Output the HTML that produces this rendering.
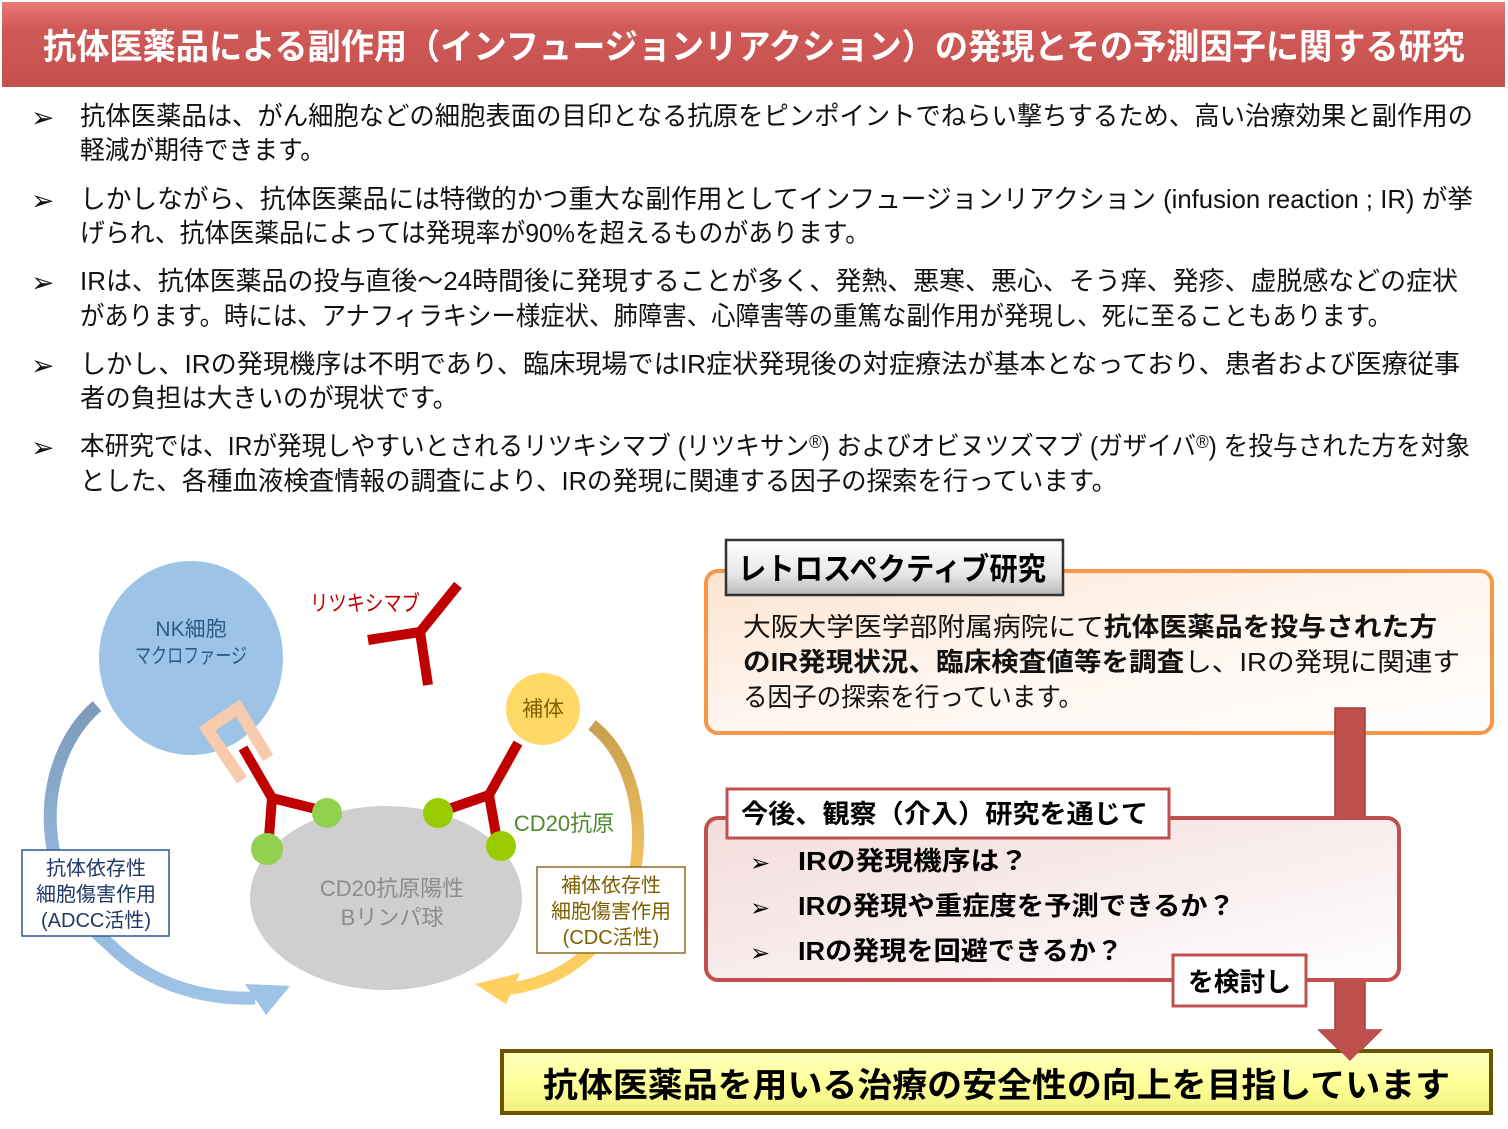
<!DOCTYPE html>
<html><head><meta charset="utf-8"><style>
html,body{margin:0;padding:0;background:#fff;}
svg{display:block;}
text{font-family:"Liberation Sans","Noto Sans CJK JP",sans-serif;}
</style></head><body>
<svg width="1508" height="1129" viewBox="0 0 1508 1129" xmlns="http://www.w3.org/2000/svg">
<defs>
<linearGradient id="tg" x1="0" y1="0" x2="0" y2="1">
<stop offset="0" stop-color="#ec7a78"/><stop offset="0.3" stop-color="#d05a58"/><stop offset="1" stop-color="#c4504e"/></linearGradient>
<linearGradient id="og" x1="0" y1="0" x2="1" y2="1">
<stop offset="0" stop-color="#fce4d0"/><stop offset="0.5" stop-color="#fff6ef"/><stop offset="1" stop-color="#ffffff"/></linearGradient>
<linearGradient id="rg" x1="0" y1="0" x2="1" y2="1">
<stop offset="0" stop-color="#f4dcdc"/><stop offset="0.5" stop-color="#f8ecec"/><stop offset="1" stop-color="#ffffff"/></linearGradient>
<linearGradient id="gg" x1="0" y1="0" x2="0" y2="1">
<stop offset="0" stop-color="#ffffff"/><stop offset="0.6" stop-color="#e8e8e8"/><stop offset="1" stop-color="#b8b8b8"/></linearGradient>
<linearGradient id="yg" x1="0" y1="0" x2="0" y2="1">
<stop offset="0" stop-color="#ffffc0"/><stop offset="0.5" stop-color="#ffff99"/><stop offset="1" stop-color="#f0f080"/></linearGradient>
<linearGradient id="lb" x1="0" y1="0" x2="0" y2="1">
<stop offset="0" stop-color="#7c9bb8"/><stop offset="0.45" stop-color="#8fb2d6"/><stop offset="1" stop-color="#9dc3e6"/></linearGradient>
<linearGradient id="ry" x1="0" y1="0" x2="0" y2="1">
<stop offset="0" stop-color="#c9a04e"/><stop offset="0.5" stop-color="#f0c060"/><stop offset="1" stop-color="#ffd060"/></linearGradient>
</defs>

<rect x="2" y="2" width="1503" height="85" fill="url(#tg)"/>
<text x="43" y="59" font-size="35" font-weight="bold" fill="#fff" textLength="1422" lengthAdjust="spacingAndGlyphs">抗体医薬品による副作用（インフュージョンリアクション）の発現とその予測因子に関する研究</text>

<g font-size="26" fill="#111">
<g fill="#111" font-size="28">
<text x="31" y="127">➢</text>
<text x="31" y="210">➢</text>
<text x="31" y="292">➢</text>
<text x="31" y="375">➢</text>
<text x="31" y="457">➢</text>
</g>
<text x="80" y="125" textLength="1393" lengthAdjust="spacingAndGlyphs">抗体医薬品は、がん細胞などの細胞表面の目印となる抗原をピンポイントでねらい撃ちするため、高い治療効果と副作用の</text>
<text x="80" y="159" textLength="245" lengthAdjust="spacingAndGlyphs">軽減が期待できます。</text>
<text x="80" y="208" textLength="1393" lengthAdjust="spacingAndGlyphs">しかしながら、抗体医薬品には特徴的かつ重大な副作用としてインフュージョンリアクション (infusion reaction ; IR) が挙</text>
<text x="80" y="242" textLength="790" lengthAdjust="spacingAndGlyphs">げられ、抗体医薬品によっては発現率が90%を超えるものがあります。</text>
<text x="80" y="290" textLength="1378" lengthAdjust="spacingAndGlyphs">IRは、抗体医薬品の投与直後～24時間後に発現することが多く、発熱、悪寒、悪心、そう痒、発疹、虚脱感などの症状</text>
<text x="80" y="325" textLength="1312" lengthAdjust="spacingAndGlyphs">があります。時には、アナフィラキシー様症状、肺障害、心障害等の重篤な副作用が発現し、死に至ることもあります。</text>
<text x="80" y="373" textLength="1380" lengthAdjust="spacingAndGlyphs">しかし、IRの発現機序は不明であり、臨床現場ではIR症状発現後の対症療法が基本となっており、患者および医療従事</text>
<text x="80" y="407" textLength="378" lengthAdjust="spacingAndGlyphs">者の負担は大きいのが現状です。</text>
<text x="80" y="455" textLength="1390" lengthAdjust="spacingAndGlyphs">本研究では、IRが発現しやすいとされるリツキシマブ (リツキサン<tspan font-size="18" dy="-7">®</tspan><tspan dy="7">) およびオビヌツズマブ (ガザイバ</tspan><tspan font-size="18" dy="-7">®</tspan><tspan dy="7">) を投与された方を対象</tspan></text>
<text x="80" y="490" textLength="1037" lengthAdjust="spacingAndGlyphs">とした、各種血液検査情報の調査により、IRの発現に関連する因子の探索を行っています。</text>
</g>

<path d="M97,706 C35,760 30,880 110,945 C150,985 205,1000 255,998" fill="none" stroke="url(#lb)" stroke-width="13"/>
<polygon points="245,984 290,986 266,1015" fill="#9dc3e6"/>
<path d="M592,725 C650,770 650,880 610,930 C580,965 550,985 500,990" fill="none" stroke="url(#ry)" stroke-width="12"/>
<polygon points="475,984 520,973 506,1004" fill="#ffd060"/>

<ellipse cx="191" cy="658" rx="92" ry="97" fill="#9dc3e6"/>
<text x="191" y="636" font-size="21" fill="#2e5a87" text-anchor="middle">NK細胞</text>
<text x="191" y="663" font-size="21" fill="#2e5a87" text-anchor="middle" textLength="112" lengthAdjust="spacingAndGlyphs">マクロファージ</text>
<polyline points="242,780 207,729 238,708 268,758" fill="none" stroke="#f8cbad" stroke-width="12"/>

<ellipse cx="386" cy="898" rx="136" ry="92" fill="#d0cece"/>
<text x="392" y="896" font-size="22" fill="#8c8c8c" text-anchor="middle">CD20抗原陽性</text>
<text x="392" y="925" font-size="22" fill="#8c8c8c" text-anchor="middle">Bリンパ球</text>

<ellipse cx="543" cy="709" rx="37" ry="36" fill="#ffd966"/>
<text x="543" y="716" font-size="21" fill="#7f6000" text-anchor="middle">補体</text>

<g stroke="#c00000" stroke-width="10" fill="none" stroke-linecap="butt">
<path d="M243,748 L272,798 L268,850 M272,798 L328,812"/>
<path d="M518,743 L489,795 L498,846 M489,795 L437,813"/>
<path d="M458,585 L420,632 L428,685 M420,632 L368,640"/>
</g>
<circle cx="267" cy="849" r="16" fill="#92d050"/>
<circle cx="327" cy="813" r="15" fill="#92d050"/>
<circle cx="438" cy="813" r="15" fill="#99cc00"/>
<circle cx="501" cy="846" r="15" fill="#99cc00"/>
<text x="365" y="611" font-size="22" fill="#c00000" text-anchor="middle" textLength="110" lengthAdjust="spacingAndGlyphs">リツキシマブ</text>
<text x="564" y="831" font-size="22" fill="#4e8a2e" text-anchor="middle">CD20抗原</text>

<rect x="22" y="850" width="147" height="86" fill="#fff" stroke="#2f5597" stroke-width="1.5"/>
<text x="96" y="875" font-size="20" fill="#1f3864" text-anchor="middle">抗体依存性</text>
<text x="96" y="901" font-size="20" fill="#1f3864" text-anchor="middle">細胞傷害作用</text>
<text x="96" y="927" font-size="20" fill="#1f3864" text-anchor="middle">(ADCC活性)</text>
<rect x="537" y="867" width="148" height="86" fill="#fff" stroke="#8c6d1f" stroke-width="1.5"/>
<text x="611" y="892" font-size="20" fill="#7f6000" text-anchor="middle">補体依存性</text>
<text x="611" y="918" font-size="20" fill="#7f6000" text-anchor="middle">細胞傷害作用</text>
<text x="611" y="944" font-size="20" fill="#7f6000" text-anchor="middle">(CDC活性)</text>

<rect x="706" y="571" width="786" height="162" rx="12" fill="url(#og)" stroke="#f79646" stroke-width="4"/>
<rect x="726" y="540" width="337" height="55" fill="url(#gg)" stroke="#333" stroke-width="2.5"/>
<text x="738" y="580" font-size="31" font-weight="bold" fill="#000" textLength="308" lengthAdjust="spacingAndGlyphs">レトロスペクティブ研究</text>
<g font-size="26" fill="#111">
<text x="743" y="636" textLength="694" lengthAdjust="spacingAndGlyphs">大阪大学医学部附属病院にて<tspan font-weight="bold">抗体医薬品を投与された方</tspan></text>
<text x="743" y="671" textLength="717" lengthAdjust="spacingAndGlyphs"><tspan font-weight="bold">のIR発現状況、臨床検査値等を調査</tspan>し、IRの発現に関連す</text>
<text x="743" y="706" textLength="340" lengthAdjust="spacingAndGlyphs">る因子の探索を行っています。</text>
</g>

<polygon points="1335,708 1365,708 1365,1030 1381,1030 1350,1061 1319,1030 1335,1030" fill="#c0504d" stroke="#a0403d" stroke-width="1.5"/>

<rect x="706" y="818" width="693" height="162" rx="12" fill="url(#rg)" stroke="#c0504d" stroke-width="4"/>
<rect x="727" y="789" width="442" height="49" fill="#fff" stroke="#c0504d" stroke-width="3"/>
<text x="741" y="823" font-size="26" font-weight="bold" fill="#000" textLength="407" lengthAdjust="spacingAndGlyphs">今後、観察（介入）研究を通じて</text>
<g font-size="26" font-weight="bold" fill="#000">
<g font-size="24" font-weight="normal">
<text x="750" y="871">➢</text>
<text x="750" y="916">➢</text>
<text x="750" y="961">➢</text>
</g>
<text x="798" y="870" textLength="230" lengthAdjust="spacingAndGlyphs">IRの発現機序は？</text>
<text x="798" y="915" textLength="437" lengthAdjust="spacingAndGlyphs">IRの発現や重症度を予測できるか？</text>
<text x="798" y="960" textLength="325" lengthAdjust="spacingAndGlyphs">IRの発現を回避できるか？</text>
</g>
<rect x="1173" y="955" width="133" height="51" fill="#fff" stroke="#c0504d" stroke-width="3"/>
<text x="1188" y="991" font-size="26" font-weight="bold" fill="#000" textLength="103" lengthAdjust="spacingAndGlyphs">を検討し</text>

<rect x="502" y="1051" width="989" height="62" fill="url(#yg)" stroke="#6b5300" stroke-width="4"/>
<polygon points="1319,1030 1381,1030 1350,1061" fill="#c0504d"/>
<text x="543" y="1097" font-size="34" font-weight="bold" fill="#000" textLength="907" lengthAdjust="spacingAndGlyphs">抗体医薬品を用いる治療の安全性の向上を目指しています</text>
</svg>
</body></html>
